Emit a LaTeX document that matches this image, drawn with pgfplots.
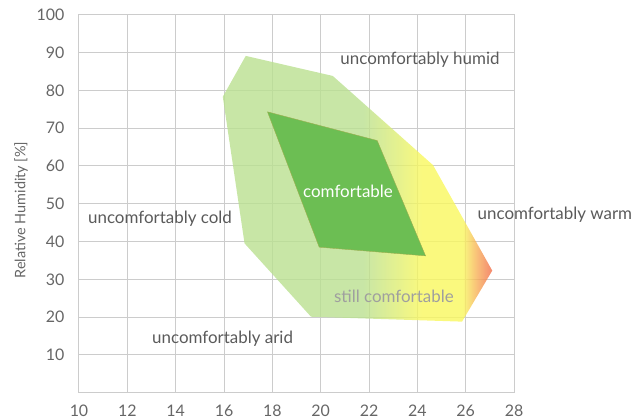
\documentclass[border=0pt]{standalone}
\usepackage{pgfplots}
\pgfplotsset{compat=1.18}
\usepackage{fontspec}
\setmainfont{Lato}
\definecolor{gridc}{HTML}{CCCCCC}
\definecolor{tickc}{HTML}{666666}
\definecolor{txtc}{HTML}{5A5A5A}
\definecolor{darkg}{HTML}{6CBE53}
\definecolor{edgeg}{HTML}{9DAE4E}
\definecolor{lgA}{RGB}{186,224,144}
\definecolor{lyA}{RGB}{249,248,94}
\definecolor{loA}{RGB}{246,166,86}
\definecolor{lrA}{RGB}{242,106,74}
\pgfdeclarehorizontalshading{comfy}{100bp}{color(0bp)=(lgA); color(51bp)=(lgA); color(62bp)=(lyA); color(69.5bp)=(lyA); color(72.5bp)=(loA); color(75bp)=(lrA); color(100bp)=(lrA)}
\begin{document}
\begin{tikzpicture}
\begin{axis}[
  name=ax,
  scale only axis,
  width=435bp, height=378bp,
  xmin=10, xmax=28, ymin=0, ymax=100,
  xtick={10,12,...,28},
  ytick={10,20,...,100},
  grid=major,
  major grid style={draw=gridc, line width=1bp},
  axis line style={draw=gridc, line width=1bp},
  major tick length=0pt,
  tick label style={font=\fontsize{16}{18}\selectfont, text=tickc},
  /pgf/number format/assume math mode=true,
  xticklabel style={yshift=-9bp},
  yticklabel style={xshift=-11bp},
  ylabel={Relative Humidity [\%]},
  ylabel style={at={(axis description cs:-0.133,0.483)}, anchor=center, rotate=0, font=\fontsize{14.5}{17}\selectfont, text=tickc},
  clip=false,
  axis on top=false,
]
\addplot[draw=none, shade, shading=comfy, fill opacity=0.8] coordinates {
  (16.9,89.1) (20.5,83.8) (24.65,60.2) (27.1,32.3) (25.85,18.8) (19.6,20.1) (16.85,39.5) (15.95,78.3)
} -- cycle;
\addplot[draw=edgeg, line width=0.4pt, fill=darkg] coordinates {
  (17.8,74.3) (22.34,66.7) (24.34,36.2) (19.94,38.5)
} -- cycle;
\node[text=txtc, font=\fontsize{17}{19}\selectfont] at (axis cs:24.11,88.0) {uncomfortably humid};
\node[text=white, font=\fontsize{17}{19}\selectfont] at (axis cs:21.13,53.4) {comfortable};
\node[text=txtc, font=\fontsize{17}{19}\selectfont] at (axis cs:13.35,45.9) {uncomfortably cold};
\node[text=txtc, font=\fontsize{17}{19}\selectfont] at (axis cs:29.69,47.1) {uncomfortably warm};
\node[text=gray!75, font=\fontsize{17}{19}\selectfont] at (axis cs:23.03,25.4) {still comfortable};
\node[text=txtc, font=\fontsize{17}{19}\selectfont] at (axis cs:15.94,14.2) {uncomfortably arid};
\end{axis}
\pgfresetboundingbox
\path ([shift={(-79bp,-26.3bp)}]ax.south west) rectangle ([shift={(129bp,14.7bp)}]ax.north east);
\end{tikzpicture}
\end{document}
